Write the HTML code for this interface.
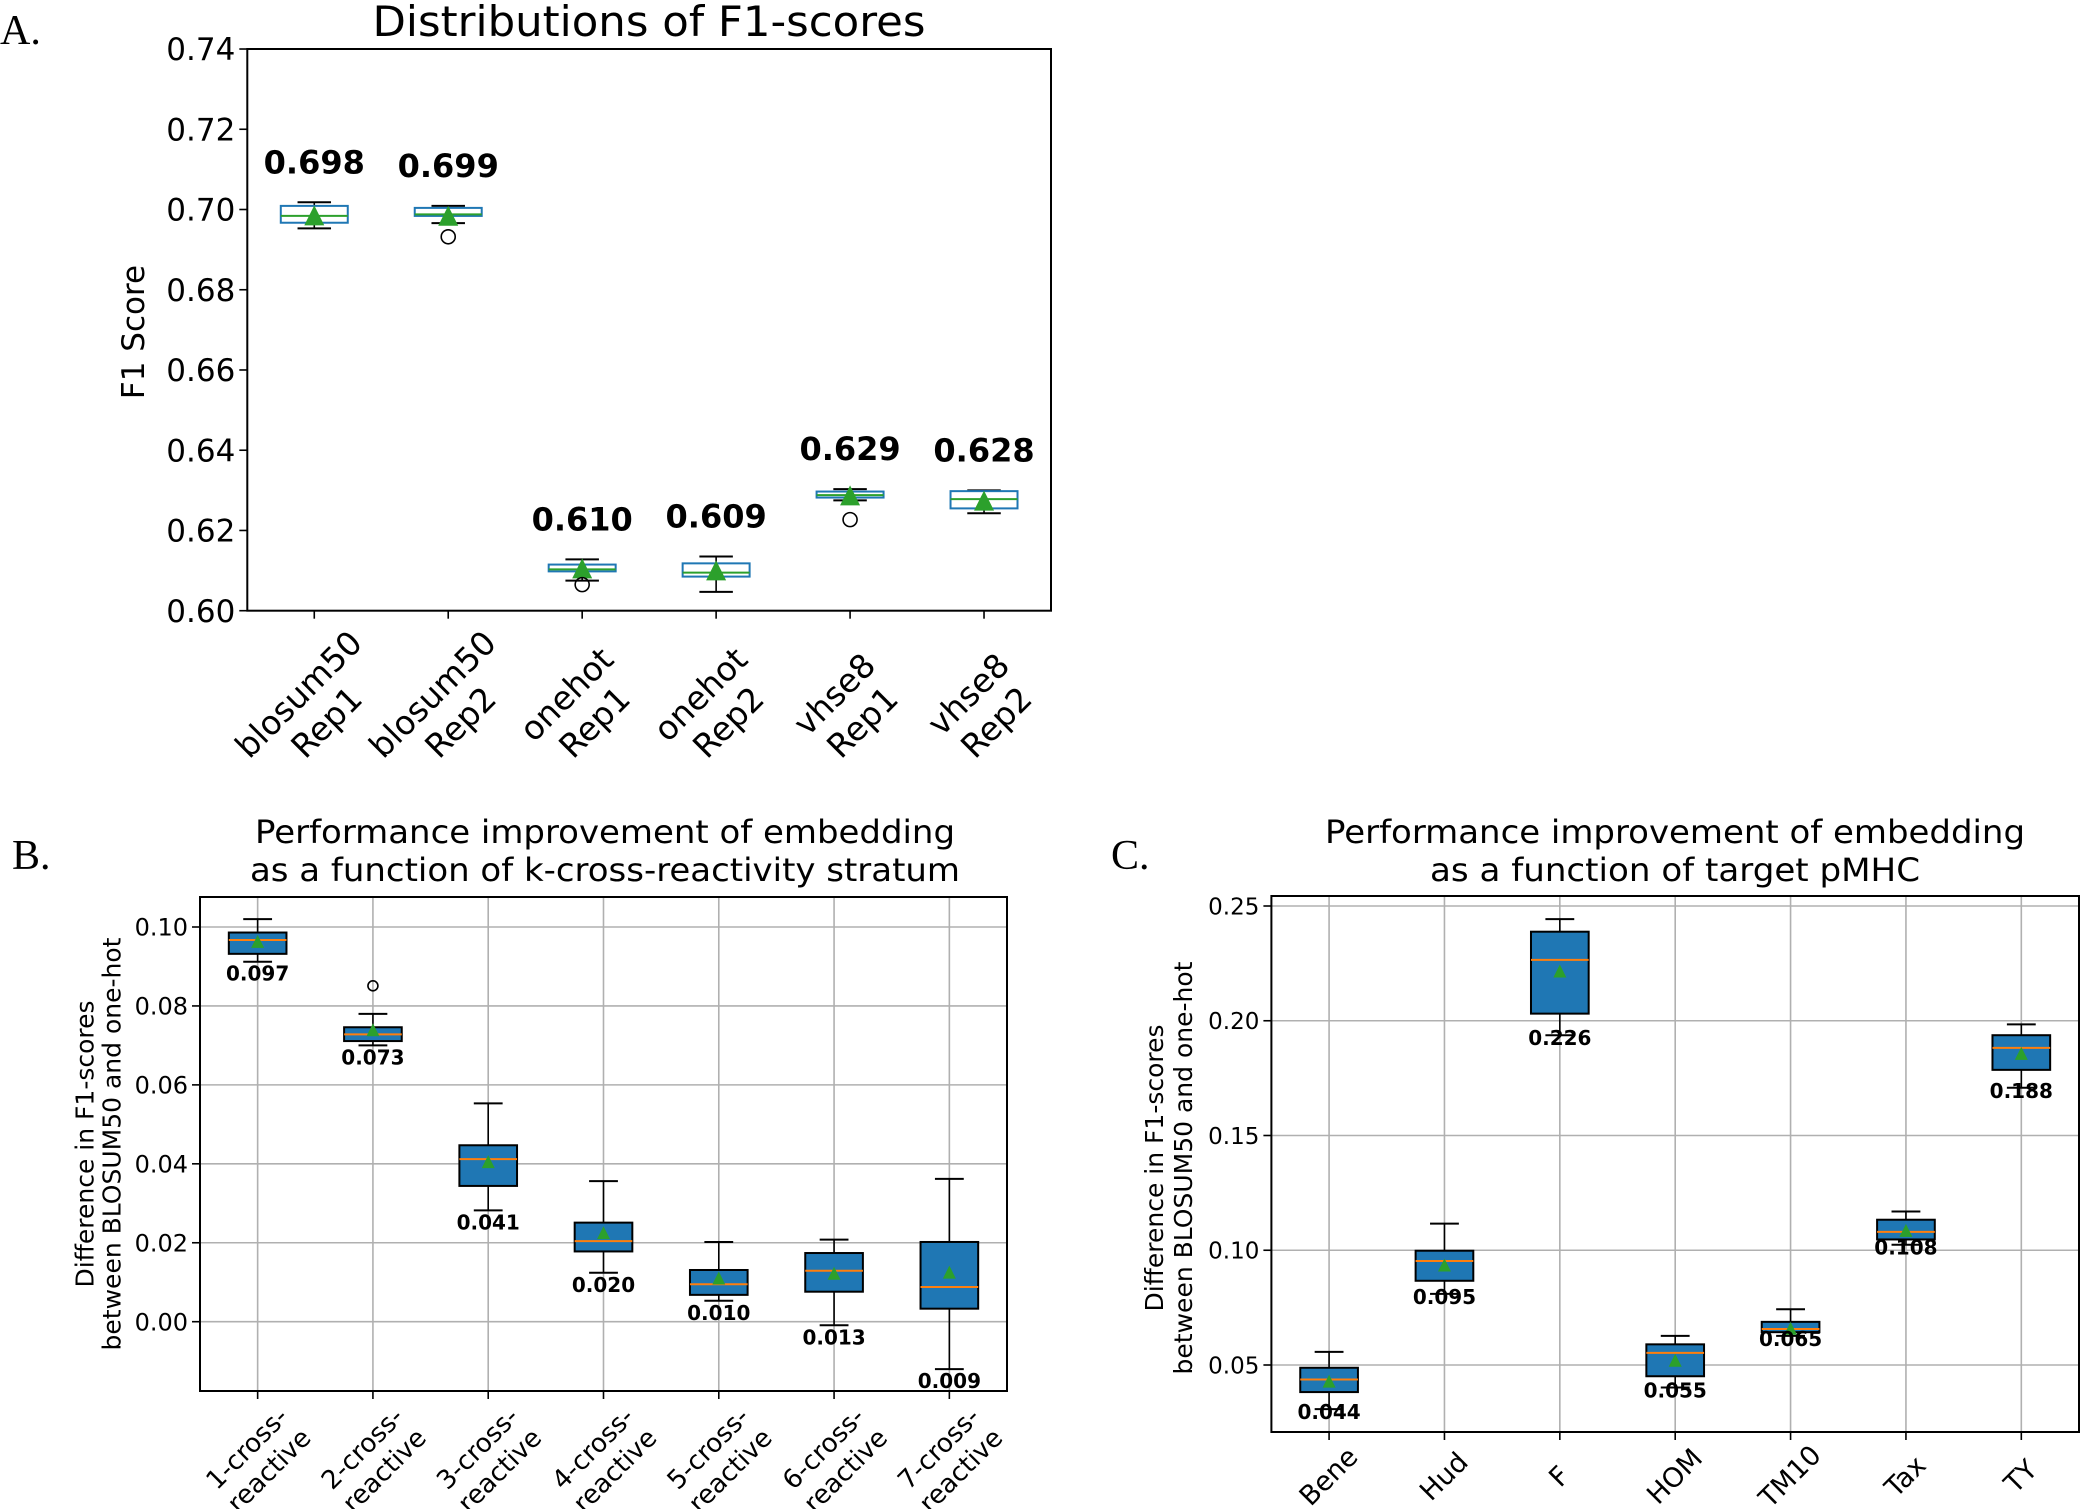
<!DOCTYPE html>
<html><head><meta charset="utf-8"><style>
html,body{margin:0;padding:0;background:#fff;}
svg{display:block;}
text{font-family:"DejaVu Sans","Liberation Sans",sans-serif;}
.lbl{font-family:"Liberation Serif",serif;}
</style></head><body>
<svg id="fig" xmlns="http://www.w3.org/2000/svg" width="2081" height="1509" viewBox="0 0 2081 1509">
<rect x="0" y="0" width="2081" height="1509" fill="#fff"/>
<text class="lbl" x="0" y="44" font-size="42">A.</text>
<text class="lbl" x="12" y="869" font-size="42">B.</text>
<text class="lbl" x="1111" y="869" font-size="42">C.</text>
</svg>
<script>
// ---- Panel A data ----
const aCategories = [["blosum50","Rep1"],["blosum50","Rep2"],["onehot","Rep1"],["onehot","Rep2"],["vhse8","Rep1"],["vhse8","Rep2"]];
const aWhiskLo = [0.6953,0.6966,0.6075,0.6047,0.6275,0.6243];
const aQ1 = [0.6967,0.6984,0.6098,0.6085,0.6282,0.6255];
const aMedian = [0.6984,0.6988,0.6103,0.6095,0.6288,0.6278];
const aQ3 = [0.7009,0.7004,0.6115,0.6118,0.6297,0.6298];
const aWhiskHi = [0.7018,0.7009,0.6128,0.6135,0.6303,0.6300];
const aMean = [0.6983,0.6982,0.6103,0.6098,0.6285,0.6272];
const aFliers = [[],[0.6932],[0.6065],[],[0.6227],[]];
const aLabels = ["0.698","0.699","0.610","0.609","0.629","0.628"];
const aTicks = [0.60,0.62,0.64,0.66,0.68,0.70,0.72,0.74];
const aTickLabels = ["0.60","0.62","0.64","0.66","0.68","0.70","0.72","0.74"];

// ---- Panel B data ----
const bCategories = [["1-cross-","reactive"],["2-cross-","reactive"],["3-cross-","reactive"],["4-cross-","reactive"],["5-cross-","reactive"],["6-cross-","reactive"],["7-cross-","reactive"]];
const bWhiskLo = [0.0912,0.0700,0.0282,0.0124,0.0053,-0.0009,-0.0120];
const bQ1 = [0.0932,0.0711,0.0344,0.0178,0.0068,0.0076,0.0033];
const bMedian = [0.0967,0.0728,0.0412,0.0204,0.0095,0.0129,0.0088];
const bQ3 = [0.0986,0.0746,0.0447,0.0251,0.0131,0.0174,0.0202];
const bWhiskHi = [0.1020,0.0780,0.0553,0.0356,0.0202,0.0208,0.0362];
const bMean = [0.0962,0.0738,0.0404,0.0224,0.0109,0.0121,0.0124];
const bFliers = [[],[0.0851],[],[],[],[],[]];
const bLabels = ["0.097","0.073","0.041","0.020","0.010","0.013","0.009"];
const bTicks = [0.00,0.02,0.04,0.06,0.08,0.10];
const bTickLabels = ["0.00","0.02","0.04","0.06","0.08","0.10"];

// ---- Panel C data ----
const cCategories = [["Bene"],["Hud"],["F"],["HOM"],["TM10"],["Tax"],["TY"]];
const cWhiskLo = [0.0308,0.0810,0.1937,0.0402,0.0627,0.1024,0.1708];
const cQ1 = [0.0382,0.0867,0.2031,0.0451,0.0643,0.1047,0.1786];
const cMedian = [0.0437,0.0953,0.2265,0.0553,0.0657,0.1080,0.1882];
const cQ3 = [0.0488,0.0998,0.2388,0.0590,0.0688,0.1133,0.1937];
const cWhiskHi = [0.0557,0.1116,0.2443,0.0627,0.0743,0.1169,0.1984];
const cMean = [0.0427,0.0933,0.2214,0.0518,0.0657,0.1084,0.1855];
const cFliers = [[],[],[],[],[],[],[]];
const cLabels = ["0.044","0.095","0.226","0.055","0.065","0.108","0.188"];
const cTicks = [0.05,0.10,0.15,0.20,0.25];
const cTickLabels = ["0.05","0.10","0.15","0.20","0.25"];

const NS = "http://www.w3.org/2000/svg";
const fig = document.getElementById('fig');
function mk(tag, attrs, parent){
  const e = document.createElementNS(NS, tag);
  for (const k in attrs) e.setAttribute(k, attrs[k]);
  (parent||fig).appendChild(e);
  return e;
}

function drawPanel(P){
  const g = mk('g', {});
  
  
  const n = P.cats.length;
  const step = (P.right - P.left) / n;
  const xs = i => P.left + (i + 0.5) * step;
  const ys = v => P.y0 - (v - P.v0) * P.k;
  if (P.grid){
    P.ticks.forEach(t => {
      const l = mk('line', {x1:P.left, x2:P.right, y1:ys(t), y2:ys(t), stroke:'#b0b0b0', 'stroke-width':1.6}, g);
      
      
    });
    P.cats.forEach((c,i) => {
      const l = mk('line', {x1:xs(i), x2:xs(i), y1:P.top, y2:P.bottom, stroke:'#b0b0b0', 'stroke-width':1.6}, g);
      
      
    });
  }
  P.ticks.forEach((t,i) => {
    mk('line', {x1:P.left-8, x2:P.left, y1:ys(t), y2:ys(t), stroke:'#000', 'stroke-width':1.6}, g);
    const tx = mk('text', {x:P.left-12, y:ys(t)+P.tickFont*0.36, 'font-size':P.tickFont, 'text-anchor':'end'}, g);
    tx.textContent = P.tickLabels[i];
    
    
  });
  const hw = step * 0.25, cw = step * 0.125;
  P.cats.forEach((c,i) => {
    const bg = mk('g', {}, g);
    
    
    const x = xs(i);
    mk('line', {x1:x, x2:x, y1:ys(P.hi[i]), y2:ys(P.q3[i]), stroke:'#000', 'stroke-width':1.6}, bg);
    mk('line', {x1:x, x2:x, y1:ys(P.q1[i]), y2:ys(P.lo[i]), stroke:P.whiskColor, 'stroke-width':1.6}, bg);
    mk('line', {x1:x-cw, x2:x+cw, y1:ys(P.hi[i]), y2:ys(P.hi[i]), stroke:'#000', 'stroke-width':2}, bg);
    mk('line', {x1:x-cw, x2:x+cw, y1:ys(P.lo[i]), y2:ys(P.lo[i]), stroke:'#000', 'stroke-width':2}, bg);
    mk('rect', {x:x-hw, y:ys(P.q3[i]), width:2*hw, height:Math.max(1, ys(P.q1[i])-ys(P.q3[i])), fill:P.fill, stroke:P.edge, 'stroke-width':2}, bg);
    mk('line', {x1:x-hw, x2:x+hw, y1:ys(P.med[i]), y2:ys(P.med[i]), stroke:P.medColor, 'stroke-width':2}, bg);
    const my = ys(P.mean[i]), s = P.tri;
    mk('polygon', {points:`${x},${my-s*0.55} ${x-s*0.5},${my+s*0.45} ${x+s*0.5},${my+s*0.45}`, fill:'#2ca02c'}, bg);
    P.fliers[i].forEach(f => {
      const c2 = mk('circle', {cx:x, cy:ys(f), r:P.flierR, fill:'none', stroke:'#000', 'stroke-width':1.6}, bg);
      
      
    });
    const lt = mk('text', {x:x, y:ys(P.labelAnchor === 'hi' ? P.hi[i] : P.lo[i]) + P.labelOff, 'font-size':P.labelFont, 'font-weight':'bold', 'text-anchor':'middle'}, bg);
    lt.textContent = P.labels[i];
    
    
    mk('line', {x1:x, x2:x, y1:P.bottom, y2:P.bottom+8, stroke:'#000', 'stroke-width':1.6}, g);
    const tg = mk('g', {transform:`translate(${x+P.xlDx},${P.xlY}) rotate(-45)`}, g);
    
    
    const nl = c.length, lh = P.xlFont * 1.2;
    c.forEach((s2,j) => {
      const t = mk('text', {x:0, y:(j - (nl-1)/2) * lh + P.xlFont*0.36, 'font-size':P.xlFont, 'text-anchor':'middle'}, tg);
      t.textContent = s2;
    });
  });
  const fr = mk('rect', {x:P.left, y:P.top, width:P.right-P.left, height:P.bottom-P.top, fill:'none', stroke:'#000', 'stroke-width':2}, g);
  
  
  P.title.forEach((t,j) => {
    const tt = mk('text', {x:P.titleX, y:P.titleY[j], 'font-size':P.titleFont, 'text-anchor':'middle', textLength:P.titleLen[j], lengthAdjust:'spacingAndGlyphs'}, g);
    tt.textContent = t;
    
    
  });
  P.ylabel.forEach((t,j) => {
    const yl = mk('text', {transform:`translate(${P.ylX[j]},${P.ylY}) rotate(-90)`, x:0, y:P.ylFont*0.36, 'font-size':P.ylFont, 'text-anchor':'middle'}, g);
    yl.textContent = t;
    
    
  });
}

drawPanel({name:'chart-a', cats:aCategories, lo:aWhiskLo, q1:aQ1, med:aMedian, q3:aQ3, hi:aWhiskHi, mean:aMean, fliers:aFliers, labels:aLabels,
  ticks:aTicks, tickLabels:aTickLabels, left:247.3, right:1051, top:49, bottom:610.7, y0:610.7, v0:0.60, k:4012,
  grid:false, fill:'none', edge:'#1f77b4', medColor:'#2ca02c', whiskColor:'#000', tri:20, flierR:7,
  labelAnchor:'hi', labelOff:-29, labelFont:32, tickFont:31, xlFont:33, xlDx:-2, xlY:708,
  title:['Distributions of F1-scores'], titleX:649, titleY:[36], titleFont:42, titleLen:[553],
  ylabel:['F1 Score'], ylX:[133], ylY:332, ylFont:31});

drawPanel({name:'chart-b', cats:bCategories, lo:bWhiskLo, q1:bQ1, med:bMedian, q3:bQ3, hi:bWhiskHi, mean:bMean, fliers:bFliers, labels:bLabels,
  ticks:bTicks, tickLabels:bTickLabels, left:200, right:1007, top:897, bottom:1391, y0:1321.7, v0:0, k:3947,
  grid:true, fill:'#1f77b4', edge:'#000', medColor:'#ff7f0e', whiskColor:'#000', tri:13, flierR:5,
  labelAnchor:'lo', labelOff:19, labelFont:20, tickFont:24, xlFont:26, xlDx:0, xlY:1459,
  title:['Performance improvement of embedding','as a function of k-cross-reactivity stratum'], titleX:605, titleY:[843,881], titleFont:32, titleLen:[700,710],
  ylabel:['Difference in F1-scores','between BLOSUM50 and one-hot'], ylX:[84.6,111.6], ylY:1144, ylFont:25});

drawPanel({name:'chart-c', cats:cCategories, lo:cWhiskLo, q1:cQ1, med:cMedian, q3:cQ3, hi:cWhiskHi, mean:cMean, fliers:cFliers, labels:cLabels,
  ticks:cTicks, tickLabels:cTickLabels, left:1271.4, right:2079, top:896, bottom:1432, y0:906, v0:0.25, k:2295,
  grid:true, fill:'#1f77b4', edge:'#000', medColor:'#ff7f0e', whiskColor:'#000', tri:13, flierR:5,
  labelAnchor:'lo', labelOff:10, labelFont:20, tickFont:23, xlFont:27, xlDx:-1, xlY:1476,
  title:['Performance improvement of embedding','as a function of target pMHC'], titleX:1675, titleY:[843,881], titleFont:32, titleLen:[700,490],
  ylabel:['Difference in F1-scores','between BLOSUM50 and one-hot'], ylX:[1154,1183], ylY:1168, ylFont:25});
</script>
</body></html>
